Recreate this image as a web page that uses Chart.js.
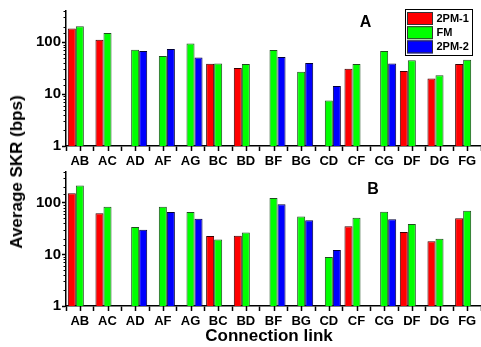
<!DOCTYPE html>
<html><head><meta charset="utf-8">
<script src="https://cdn.jsdelivr.net/npm/chart.js@4"></script>
<style>
html,body{margin:0;padding:0;background:#fff;}
#wrap{position:relative;width:481px;height:347px;overflow:hidden;font-family:"Liberation Sans",Arial,sans-serif;}
#ca{position:absolute;left:0;top:0;}
#cb{position:absolute;left:0;top:160px;}
.yt{position:absolute;left:16.5px;top:172px;transform:translate(-50%,-50%) rotate(-90deg);font-weight:bold;font-size:17px;white-space:nowrap;color:#000;}
.xt{position:absolute;left:269px;top:336px;transform:translate(-50%,-50%);font-weight:bold;font-size:17px;white-space:nowrap;color:#000;}
</style></head>
<body>
<div id="wrap">
<canvas id="ca" width="481" height="170"></canvas>
<canvas id="cb" width="481" height="187"></canvas>
<div class="yt">Average SKR (bps)</div>
<div class="xt">Connection link</div>
</div>
<script>
const categories = ['AB','AC','AD','AF','AG','BC','BD','BF','BG','CD','CF','CG','DF','DG','FG'];
const seriesNames = ['2PM-1','FM','2PM-2'];
const yTickLabels = [1, 10, 100];

const A_pm1 = [183,112,null,null,null,38.5,32,null,null,null,31,null,28,20,38];
const A_fm  = [203,151,72,54,95,39,38,71,27,7.5,38,68,45,23,46];
const A_pm2 = [null,null,68,74,51,null,null,52,40,14.3,null,39,null,null,null];

const B_pm1 = [153,63,null,null,null,22.6,23,null,null,null,35,null,27,18,50];
const B_fm  = [215,84,34,84,66,19.4,26.5,124,54,8.9,51,67,39,20,70];
const B_pm2 = [null,null,30,66,49,null,null,94,46,12.1,null,48,null,null,null];

const FAM = '"Liberation Sans", Arial, sans-serif';
const fills = ['#ff0000','#00ff00','#0000ff'];
const borders = ['#3a0000','#1f4d1f','#00003a'];
const isMajor = v => yTickLabels.includes(v);

const extras = {
  id: 'extras',
  afterDraw(chart, args, opts) {
    const ctx = chart.ctx, ca = chart.chartArea;
    const xs = chart.scales.x, ys = chart.scales.y;
    ctx.save();
    ctx.strokeStyle = '#000';
    ctx.lineWidth = 1.5;
    // ticks at category centres
    categories.forEach((c, i) => {
      const px = Math.round(xs.getPixelForValue(i)) + 0.5;
      ctx.beginPath(); ctx.moveTo(px, ca.bottom); ctx.lineTo(px, ca.bottom + 5); ctx.stroke();
    });
    // minor y ticks
    ctx.lineWidth = 1;
    ys.ticks.forEach(t => {
      if (isMajor(t.value)) return;
      const py = Math.round(ys.getPixelForValue(t.value)) + 0.5;
      ctx.beginPath(); ctx.moveTo(ca.left - 2.5, py); ctx.lineTo(ca.left, py); ctx.stroke();
    });
    // panel label
    ctx.fillStyle = '#000';
    ctx.font = 'bold 16px ' + FAM;
    ctx.textAlign = 'center'; ctx.textBaseline = 'middle';
    ctx.fillText(opts.label, ca.left + opts.lx * (ca.right - ca.left), ca.top + opts.ly);
    // legend
    if (opts.legend) {
      const right = ca.right - 9, top = ca.top - 2;
      const w = 67, h = 46;
      ctx.lineWidth = 1;
      ctx.strokeStyle = '#000';
      ctx.strokeRect(right - w + 0.5, top + 0.5, w, h);
      ctx.font = 'bold 11px ' + FAM;
      ctx.textAlign = 'left';
      chart.data.datasets.forEach((ds, i) => {
        const y0 = top + 3 + i * 14.2;
        ctx.fillStyle = ds.backgroundColor;
        ctx.fillRect(right - w + 2, y0, 26, 13);
        ctx.strokeStyle = '#333';
        ctx.strokeRect(right - w + 2.5, y0 + 0.5, 25, 12);
        ctx.fillStyle = '#000';
        ctx.fillText(ds.label, right - w + 31.5, y0 + 7);
      });
    }
    ctx.restore();
  }
};

function makeChart(id, pm1, fm, pm2, label, lx, ly, legend, topPad, xH) {
  const vals = [pm1, fm, pm2];
  return new Chart(document.getElementById(id), {
    type: 'bar',
    data: {
      labels: categories,
      datasets: seriesNames.map((n, i) => ({
        label: n, data: vals[i],
        backgroundColor: fills[i], borderColor: borders[i], borderWidth: 1,
        categoryPercentage: 0.87, barPercentage: 1.0
      }))
    },
    options: {
      responsive: false, animation: false,
      layout: { padding: { top: topPad, left: 0, right: 0, bottom: 0 } },
      plugins: { legend: { display: false }, tooltip: { enabled: false },
        extras: { label, lx, ly, legend } },
      scales: {
        x: {
          border: { display: true, color: '#000', width: 1.5 },
          grid: { display: true, drawOnChartArea: false, drawTicks: true, tickLength: 5, tickColor: '#000', tickWidth: 1.5, offset: true },
          ticks: { padding: 3, color: '#000', font: { family: FAM, size: 13, weight: 'bold' }, maxRotation: 0, autoSkip: false },
          afterFit: s => { s.height = xH; }
        },
        y: {
          type: 'logarithmic', min: 1, max: 400,
          border: { display: true, color: '#000', width: 1.5 },
          grid: { display: true, drawOnChartArea: false, drawTicks: true, tickLength: 4, tickWidth: 1.5,
                  tickColor: c => (c.tick && isMajor(c.tick.value)) ? '#000' : 'rgba(0,0,0,0)' },
          ticks: { autoSkip: false, padding: 1, color: '#000', font: { family: FAM, size: 15, weight: 'bold' },
                   callback: v => isMajor(v) ? String(v) : '' },
          afterFit: s => { s.width = 66; }
        }
      }
    },
    plugins: [extras]
  });
}

makeChart('ca', A_pm1, A_fm, A_pm2, 'A', 0.722, 11.5, true, 11, 24);
makeChart('cb', B_pm1, B_fm, B_pm2, 'B', 0.74, 18.3, false, 11.7, 41);
</script>
</body></html>
